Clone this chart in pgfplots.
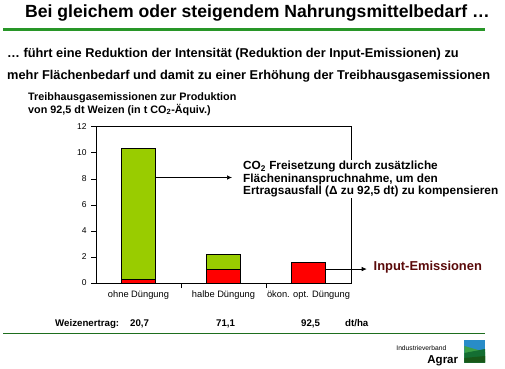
\documentclass[border=0pt]{standalone}
\usepackage{fontspec}
\setmainfont{Liberation Sans}
\usepackage{pgfplots}
\pgfplotsset{compat=1.18}
\usetikzlibrary{arrows.meta}
\definecolor{bargreen}{RGB}{153,204,0}
\definecolor{barred}{RGB}{255,0,0}
\definecolor{linegreen}{RGB}{40,150,40}
\definecolor{darkgreen}{RGB}{30,110,30}
\definecolor{maroon}{RGB}{90,10,10}
\definecolor{logoblue}{RGB}{40,140,200}
\definecolor{logog1}{RGB}{60,160,70}
\definecolor{logog2}{RGB}{20,110,50}
\begin{document}
\begin{tikzpicture}
\path[fill=white,use as bounding box] (0,0) rectangle (505bp,-369bp);
% title
\node[anchor=base west,inner sep=0,font=\bfseries\fontsize{17.6bp}{20bp}\selectfont] at (25bp,-17bp) {Bei gleichem oder steigendem Nahrungsmittelbedarf …};
\draw[line width=2.5bp,linegreen] (3bp,-29.7bp) -- (485bp,-29.7bp);
% subtitle
\node[anchor=base west,inner sep=0,font=\bfseries\fontsize{12.8bp}{15bp}\selectfont] at (7bp,-57.5bp) {… führt eine Reduktion der Intensität (Reduktion der Input-Emissionen) zu};
\node[anchor=base west,inner sep=0,font=\bfseries\fontsize{12.8bp}{15bp}\selectfont] at (7bp,-79.5bp) {mehr Flächenbedarf und damit zu einer Erhöhung der Treibhausgasemissionen};
% axis title
\node[anchor=base west,inner sep=0,font=\bfseries\fontsize{10.8bp}{13bp}\selectfont] at (28bp,-100.5bp) {Treibhausgasemissionen zur Produktion};
\node[anchor=base west,inner sep=0,font=\bfseries\fontsize{10.8bp}{13bp}\selectfont] at (28bp,-113bp) {von 92,5 dt Weizen (in t CO\textsubscript{2}-Äquiv.)};
\begin{axis}[
  at={(96bp,-283bp)}, anchor=south west,
  scale only axis, width=255bp, height=156.3bp,
  xmin=-0.5, xmax=2.5, ymin=0, ymax=12,
  ytick={0,2,...,12},
  /pgf/number format/assume math mode=true,
  xtick={0.5,1.5}, xticklabels={},
  extra x ticks={0,1,2},
  extra x tick labels={ohne Düngung, halbe Düngung, ökon. opt. Düngung},
  extra x tick style={major tick length=0pt, xticklabel style={yshift=-4bp}},
  tick align=outside, xtick pos=bottom, ytick pos=left,
  major tick length=5bp,
  tick style={black, line width=0.6bp},
  axis line style={line width=0.7bp},
  yticklabel style={font=\fontsize{8.5bp}{9bp}\selectfont, xshift=-1bp},
  xticklabel style={font=\fontsize{9.3bp}{11bp}\selectfont},
  ybar stacked, bar width=34bp,
  clip=false,
]
\addplot[fill=barred, draw=black, line width=0.6bp] coordinates {(0,0.28) (1,1.05) (2,1.56)};
\addplot[fill=bargreen, draw=black, line width=0.6bp] coordinates {(0,10.05) (1,1.15)};
\draw[line width=0.7bp,-{Latex[length=5bp,width=4.5bp]}] (axis cs:0.09,8.1) -- (axis cs:1.1,8.1);
\draw[line width=0.7bp,-{Latex[length=5bp,width=4.5bp]}] (axis cs:2.2,1.07) -- (axis cs:2.685,1.07);
\end{axis}
% annotation
\node[anchor=north west,fill=white,inner xsep=2bp,inner ysep=1bp,align=left,font=\bfseries\fontsize{11.8bp}{12.3bp}\selectfont] at (241bp,-160bp) {CO\textsubscript{2} Freisetzung durch zusätzliche\\Flächeninanspruchnahme, um den\\Ertragsausfall (Δ zu 92,5 dt) zu kompensieren};
\node[anchor=base west,inner sep=0,text=maroon,font=\bfseries\fontsize{12.9bp}{15bp}\selectfont] at (373.5bp,-270.5bp) {Input-Emissionen};
% yield row
\begin{scope}[every node/.style={anchor=base west,inner sep=0,font=\bfseries\fontsize{9.7bp}{11bp}\selectfont}]
\node at (55bp,-326bp) {Weizenertrag:};
\node at (130bp,-326bp) {20,7};
\node at (216bp,-326bp) {71,1};
\node at (301bp,-326bp) {92,5};
\node at (345bp,-326bp) {dt/ha};
\end{scope}
\draw[line width=1bp,darkgreen] (3bp,-333.3bp) -- (485bp,-333.3bp);
% logo
\node[anchor=base east,inner sep=0,font=\fontsize{6.7bp}{8bp}\selectfont] at (446.5bp,-350.5bp) {Industrieverband};
\node[anchor=base east,inner sep=0,font=\bfseries\fontsize{11.5bp}{13bp}\selectfont] at (458.3bp,-363bp) {Agrar};
\fill[logoblue] (464.3bp,-340bp) rectangle (485bp,-362.7bp);
\fill[logog1] (464.3bp,-346bp) -- (485bp,-352bp) -- (485bp,-362.7bp) -- (464.3bp,-362.7bp) -- cycle;
\fill[logog2] (464.3bp,-353bp) -- (485bp,-349bp) -- (485bp,-362.7bp) -- (464.3bp,-362.7bp) -- cycle;
\fill[darkgreen!80!black] (464.3bp,-358bp) -- (485bp,-356bp) -- (485bp,-362.7bp) -- (464.3bp,-362.7bp) -- cycle;
\end{tikzpicture}
\end{document}
